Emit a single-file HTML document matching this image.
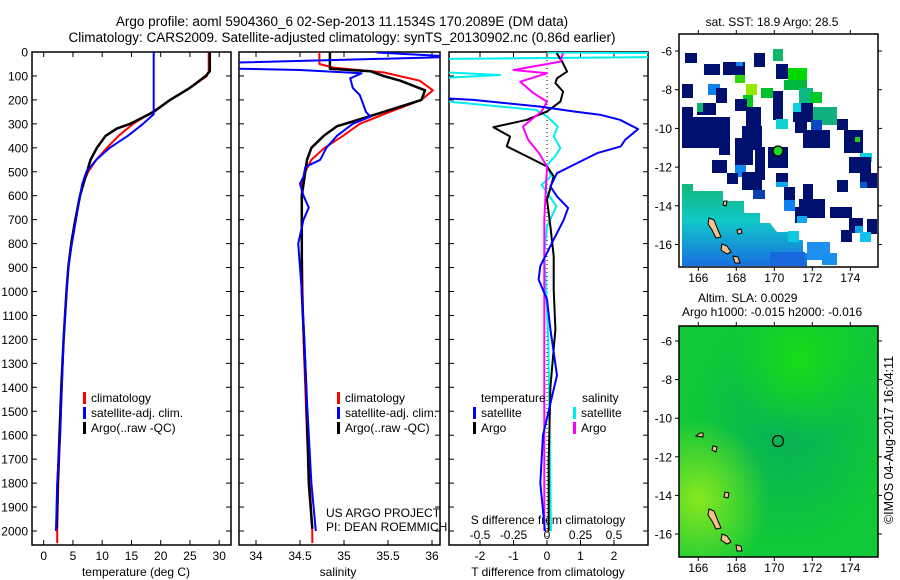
<!DOCTYPE html>
<html><head><meta charset="utf-8"><style>
body{margin:0;background:#fff;}
svg{display:block;font-family:"Liberation Sans",sans-serif;}
text{fill:#000;}
</style></head><body>
<svg id="fig" width="900" height="580" viewBox="0 0 900 580">
<defs>
<clipPath id="c1"><rect x="32" y="52" width="199" height="493"/></clipPath>
<clipPath id="c2"><rect x="239" y="52" width="201" height="493"/></clipPath>
<clipPath id="c3"><rect x="449" y="52" width="199" height="493"/></clipPath>
<linearGradient id="swg" x1="0" y1="0" x2="0" y2="1">
<stop offset="0" stop-color="#10b878"/><stop offset="0.45" stop-color="#10c8c8"/><stop offset="1" stop-color="#1870e0"/></linearGradient>
<radialGradient id="g2a" cx="0.55" cy="0.45" r="0.5"><stop offset="0" stop-color="#08b058"/><stop offset="1" stop-color="#08b058" stop-opacity="0"/></radialGradient>
<radialGradient id="g2b" cx="0.1" cy="0.75" r="0.35"><stop offset="0" stop-color="#88e820"/><stop offset="1" stop-color="#88e820" stop-opacity="0"/></radialGradient>
<radialGradient id="g2c" cx="0.6" cy="0.15" r="0.35"><stop offset="0" stop-color="#18dc18"/><stop offset="1" stop-color="#18dc18" stop-opacity="0"/></radialGradient>
</defs>
<text x="342" y="26" font-size="13.5" text-anchor="middle">Argo profile: aoml 5904360_6 02-Sep-2013 11.1534S 170.2089E (DM data)</text>
<text x="342" y="42" font-size="13.5" text-anchor="middle">Climatology: CARS2009. Satellite-adjusted climatology: synTS_20130902.nc (0.86d earlier)</text>
<g id="p1"></g>
<g id="p2"></g>
<g id="p3"></g>
<g id="maps"></g>
<text transform="translate(893,440) rotate(-90)" font-size="12.5" text-anchor="middle">©IMOS 04-Aug-2017 16:04:11</text>
</svg>
<script>
// ---- data ----
const depthTicks=[0,100,200,300,400,500,600,700,800,900,1000,1100,1200,1300,1400,1500,1600,1700,1800,1900,2000];
const tempTicks=[0,5,10,15,20,25,30];
const salTicks=[34,34.5,35,35.5,36];
const tdiffTicks=[-2,-1,0,1,2];
const sdiffTicks=[-0.5,-0.25,0,0.25,0.5];
const sdiffTickLabels=["-0.5","-0.25","0","0.25","0.5"];

const tClimDepth=[0,80,100,150,200,250,300,350,400,450,500,550,600,700,800,900,1000,1200,1400,1600,1800,2000,2050];
const tClimVal=[28.2,28.2,27.9,25,21.6,18.6,15.3,12.8,10.8,9,7.6,6.7,6.2,5.5,4.8,4.2,3.9,3.4,3.1,2.8,2.5,2.3,2.3];
const tArgoDepth=[0,80,100,150,200,250,300,320,350,400,450,500,550,600,700,800,900,1000,1200,1400,1600,1800,1990];
const tArgoVal=[28.4,28.4,27.7,25,21.6,18.8,14.8,12.5,10.6,9.1,8,7.4,6.8,6.2,5.4,4.7,4.2,3.9,3.4,3,2.7,2.4,2.2];
const tSatDepth=[0,240,260,300,350,400,450,500,550,600,700,800,900,1000,1200,1400,1600,1800,2000];
const tSatVal=[18.8,18.8,18.8,17,14.4,11.3,9,7.3,6.6,6.2,5.5,4.8,4.2,3.9,3.4,3.1,2.8,2.3,2.1];

const sClimDepth=[0,50,65,85,120,160,200,250,300,350,400,450,500,550,600,800,1200,1600,2000,2050];
const sClimVal=[34.72,34.72,34.88,35.45,35.86,36.01,35.88,35.52,35.18,34.99,34.78,34.63,34.56,34.52,34.52,34.52,34.54,34.58,34.64,34.64];
const sArgoDepth=[0,70,80,100,120,160,200,250,290,310,350,400,450,500,600,800,1000,1400,1800,1990];
const sArgoVal=[34.84,34.84,35.3,35.45,35.64,35.92,35.88,35.45,35.1,34.92,34.77,34.63,34.58,34.56,34.52,34.52,34.52,34.57,34.6,34.64];
const sSatDepth=[2,20,45,69,75,89,110,150,180,200,250,270,300,350,400,450,480,520,550,600,650,700,800,1000,1200,1400,1600,1800,2000];
const sSatVal=[35.37,36.3,33.7,33.7,34.5,35.2,35.07,35.1,35.18,35.2,35.25,35.3,35.1,34.92,34.8,34.73,34.56,34.54,34.5,34.54,34.6,34.54,34.48,34.52,34.55,34.57,34.6,34.63,34.68];

const dTSatDepth=[0,189,200,228,248,262,283,322,367,394,422,464,506,561,603,651,700,783,894,950,1033,1158,1350,1600,1800,2000];
const dTSatVal=[-3.5,-3.5,-2.2,-0.2,0.78,1.58,2.18,2.72,2.33,2.2,1.5,0.9,0.3,0.1,0.3,0.63,0.5,0.2,-0.2,-0.25,0,0.1,0.3,-0.12,-0.2,-0.06];
const dTArgoDepth=[5,40,82,110,130,165,207,228,248,283,314,353,394,436,478,519,617,728,853,992,1158,1400,1700,2000];
const dTArgoVal=[0.29,0.45,0.6,0.3,0.25,0.48,0.4,0.2,0,-0.6,-1.6,-1.1,-1.2,-0.6,0,0.2,0,0.1,0.2,0.2,0.25,0.1,0.05,0.05];
const dSSatDepth=[2,5,20,30,78,96,115,193,242,269,311,353,401,436,471,519,554,603,644,728,839,1200,1600,2000];
const dSSatVal=[0,1,1,-1,-1,-0.35,-1,-1,-0.08,0,0.08,0.05,0.1,0.06,0,0.03,-0.04,0.02,0.07,0,-0.02,0.01,0.02,0.03];
const dSArgoDepth=[5,40,75,89,124,172,207,248,311,367,422,478,700,1200,2000];
const dSArgoVal=[0.12,0.1,-0.25,0,-0.2,-0.1,0,-0.04,-0.18,-0.14,-0.06,0,-0.02,-0.02,-0.02];

// ---- scales ----
const yD=d=>52+d*0.2395;
const xT=v=>43.7+v*5.85;
const xS=v=>256+(v-34)*88;
const xTd=v=>547+v*33.5;
const xSd=v=>547+v*134;
const NS='http://www.w3.org/2000/svg';
function mk(tag,attrs,parent){const e=document.createElementNS(NS,tag);for(const k in attrs)e.setAttribute(k,attrs[k]);parent.appendChild(e);return e;}
function txt(parent,x,y,s,size,anchor){const t=mk('text',{x:x,y:y,'font-size':size,'text-anchor':anchor||'start'},parent);t.textContent=s;return t;}
function line(parent,ds,vs,xf,color,w,clip,name){
  const pts=ds.map((d,i)=>xf(vs[i]).toFixed(1)+','+yD(d).toFixed(1)).join(' ');
  const p=mk('polyline',{points:pts,fill:'none',stroke:color,'stroke-width':w,'clip-path':'url(#'+clip+')','stroke-linejoin':'round'},parent);
  
  
  return p;
}
function frame(parent,x,w,name){
  const r=mk('rect',{x:x,y:52,width:w,height:493,fill:'none',stroke:'#000','stroke-width':1.5},parent);
  
  
  depthTicks.forEach(d=>{mk('line',{x1:x,x2:x+5,y1:yD(d),y2:yD(d),stroke:'#000'},parent);mk('line',{x1:x+w-5,x2:x+w,y1:yD(d),y2:yD(d),stroke:'#000'},parent);});
}
const p1=document.getElementById('p1'),p2=document.getElementById('p2'),p3=document.getElementById('p3');
// panel 1
frame(p1,32,199,'temperature-frame');
depthTicks.forEach(d=>{const t=txt(p1,28,yD(d)+4.5,String(d),12,'end');

});
tempTicks.forEach(v=>{mk('line',{x1:xT(v),x2:xT(v),y1:52,y2:57,stroke:'#000'},p1);mk('line',{x1:xT(v),x2:xT(v),y1:540,y2:545,stroke:'#000'},p1);
const t=txt(p1,xT(v),560,String(v),12,'middle');

});
txt(p1,136,576,'temperature (deg C)',12,'middle');
line(p1,tClimDepth,tClimVal,xT,'#f00',2,'c1','temp-climatology-line');
line(p1,tArgoDepth,tArgoVal,xT,'#000',2.5,'c1','temp-argo-line');
line(p1,tSatDepth,tSatVal,xT,'#00f',2,'c1','temp-satellite-line');
// panel 2
frame(p2,239,201,'salinity-frame');
salTicks.forEach(v=>{mk('line',{x1:xS(v),x2:xS(v),y1:52,y2:57,stroke:'#000'},p2);mk('line',{x1:xS(v),x2:xS(v),y1:540,y2:545,stroke:'#000'},p2);
const t=txt(p2,xS(v),560,String(v),12,'middle');

});
txt(p2,338,576,'salinity',12,'middle');
line(p2,sClimDepth,sClimVal,xS,'#f00',2,'c2','sal-climatology-line');
line(p2,sArgoDepth,sArgoVal,xS,'#000',2.5,'c2','sal-argo-line');
line(p2,sSatDepth,sSatVal,xS,'#00f',2,'c2','sal-satellite-line');
// panel 3
frame(p3,449,199,'difference-frame');
mk('line',{x1:547,x2:547,y1:52,y2:545,stroke:'#000','stroke-dasharray':'1,3'},p3);
tdiffTicks.forEach(v=>{mk('line',{x1:xTd(v),x2:xTd(v),y1:540,y2:545,stroke:'#000'},p3);
const t=txt(p3,xTd(v),560,String(v),12,'middle');

});
sdiffTicks.forEach((v,i)=>{mk('line',{x1:xSd(v),x2:xSd(v),y1:52,y2:57,stroke:'#000'},p3);
const t=txt(p3,xSd(v),539,sdiffTickLabels[i],12,'middle');

});
txt(p3,548,524,'S difference from climatology',12,'middle');
txt(p3,548,576,'T difference from climatology',12,'middle');
line(p3,dSSatDepth,dSSatVal,xSd,'#0ee',2,'c3','sdiff-satellite-line');
line(p3,dTArgoDepth,dTArgoVal,xTd,'#000',2,'c3','tdiff-argo-line');
line(p3,dSArgoDepth,dSArgoVal,xSd,'#f0f',2,'c3','sdiff-argo-line');
line(p3,dTSatDepth,dTSatVal,xTd,'#00f',2,'c3','tdiff-satellite-line');
// legends
function leg(parent,x,y,color,label){mk('rect',{x:x,y:y-10,width:3,height:12,fill:color},parent);const t=txt(parent,x+8,y,label,12);

}
[[p1,83],[p2,337]].forEach(([p,x])=>{leg(p,x,402,'#f00','climatology');leg(p,x,417,'#00f','satellite-adj. clim.');leg(p,x,432,'#000','Argo(..raw -QC)');});
txt(p3,481,402,'temperature',12);txt(p3,582,402,'salinity',12);
leg(p3,473,417,'#00f','satellite');leg(p3,473,432,'#000','Argo');
leg(p3,573,417,'#0ee','satellite');leg(p3,573,432,'#f0f','Argo');
txt(p2,326,517,'US ARGO PROJECT',12);txt(p2,326,531,'PI: DEAN ROEMMICH',12);
// ---- maps ----
const maps=document.getElementById('maps');
const mLon=v=>698.3+(v-166)*19;
const lonTicks=[166,168,170,172,174];
const latTicks=[-6,-8,-10,-12,-14,-16];
function mapAxes(top,bottom,latY){
  lonTicks.forEach(v=>{mk('line',{x1:mLon(v),x2:mLon(v),y1:top-4,y2:top,stroke:'#000'},maps);mk('line',{x1:mLon(v),x2:mLon(v),y1:bottom,y2:bottom+4,stroke:'#000'},maps);
  const t=txt(maps,mLon(v),bottom+15,String(v),12,'middle');
  
  });
  latTicks.forEach(v=>{const y=latY(v);mk('line',{x1:675,x2:679,y1:y,y2:y,stroke:'#000'},maps);mk('line',{x1:878,x2:882,y1:y,y2:y,stroke:'#000'},maps);
  const t=txt(maps,672,y+4.5,String(v),12,'end');
  
  });
}
txt(maps,772,26,'sat. SST: 18.9  Argo: 28.5',12,'middle');
// map1 cells
mk('polygon',{points:'682,184 693,184 693,191 723,191 723,201 744,201 744,213 760,213 760,223 770,223 777,232 790,232 790,240 803,240 803,253 807,253 807,266 682,266',fill:'url(#swg)'},maps);
const N='#00106e';
const cells=[[685,53,12,10,N],[754,53,11,14,N],[773,49,10,12,'#10b868'],[704,64,16,11,N],[723,62,22,13,N],[736,62,7,4,'#1080f0'],[735,75,10,8,'#30d800'],[776,64,12,15,N],[788,68,19,12,'#00d800'],[784,80,23,10,'#00b840'],[746,84,11,11,'#98e800'],[761,88,12,10,'#00c030'],[743,95,10,12,'#00c820'],[682,84,11,14,N],[708,84,12,11,'#1080f0'],[716,88,11,15,N],[799,88,14,15,'#10b888'],[810,92,12,11,'#00c828'],[773,91,10,29,N],[735,99,12,12,N],[697,103,19,12,N],[697,103,6,9,'#10b070'],[682,107,11,13,N],[746,107,15,20,N],[793,103,20,19,N],[793,103,8,9,'#10d0e0'],[813,107,24,18,'#10b080'],[682,117,48,31,N],[776,119,12,10,'#10d0d0'],[795,120,12,13,N],[811,120,11,10,'#0848c0'],[837,119,11,11,N],[803,130,27,18,N],[844,130,19,23,N],[855,137,5,5,'#20d020'],[742,126,20,24,N],[735,138,18,27,N],[719,138,11,17,N],[755,147,10,33,N],[768,147,20,21,N],[712,160,15,13,N],[860,153,12,9,'#10d0e0'],[849,157,22,16,N],[735,165,11,12,'#1088f0'],[727,173,11,11,N],[742,172,20,18,N],[753,190,12,9,'#0840b0'],[776,173,12,14,N],[776,182,12,5,'#10a8f0'],[837,180,11,12,N],[860,173,17,15,N],[860,182,7,6,'#0858d0'],[784,187,11,13,N],[803,184,10,23,N],[799,199,26,19,N],[784,200,11,11,'#1080f0'],[795,207,12,16,N],[797,216,10,7,'#10a8f0'],[830,207,22,11,N],[849,218,14,15,N],[855,226,8,7,'#10a0f0'],[867,219,10,15,N],[841,230,11,12,N],[860,232,11,10,'#10c0f0'],[788,231,11,11,'#10c8e0'],[807,242,23,18,'#2090f0'],[822,253,15,12,'#1890f0'],[770,252,35,14,'#1868e0']];
cells.forEach(c=>{const r=mk('rect',{x:c[0],y:c[1],width:c[2],height:c[3],fill:c[4]},maps);

});
// islands map1
[['709,218 714,220 718,230 721,237 716,238 712,230 708,224'],['722,244 727,246 731,252 727,254 721,250'],['733,256 738,257 740,263 735,263'],['724,201 727,201 726,206 723,205'],['737,230 741,229 742,233 738,234']].forEach(p=>{mk('polygon',{points:p[0],fill:'#f6c08c',stroke:'#000','stroke-width':1},maps);});
mk('circle',{cx:778,cy:151,r:5,fill:'#20d820',stroke:'#000','stroke-width':1.2},maps);
mk('rect',{x:679,y:34,width:199,height:233,fill:'none',stroke:'#000','stroke-width':1.5},maps);
mapAxes(34,267,v=>51+(-6-v)*19.35);
txt(maps,698,302,'Altim. SLA: 0.0029',12);
txt(maps,682,316,'Argo h1000: -0.015 h2000: -0.016',12);
// map2
mk('rect',{x:679,y:326,width:199,height:231,fill:'#10c838'},maps);
mk('rect',{x:679,y:326,width:199,height:231,fill:'url(#g2a)'},maps);
mk('rect',{x:679,y:326,width:199,height:231,fill:'url(#g2b)'},maps);
mk('rect',{x:679,y:326,width:199,height:231,fill:'url(#g2c)'},maps);
[['709,509 714,511 718,521 721,528 716,529 712,521 708,515'],['722,534 727,536 731,542 727,544 721,540'],['736,545 741,546 742,551 737,551'],['703,433 700,433 696,436 703,437'],['713,446 717,447 716,452 712,450'],['725,492 729,493 728,498 724,497']].forEach(p=>{mk('polygon',{points:p[0],fill:'#f6c08c',stroke:'#000','stroke-width':1},maps);});
mk('circle',{cx:778,cy:441,r:5.5,fill:'none',stroke:'#000','stroke-width':1.2},maps);
mk('rect',{x:679,y:326,width:199,height:231,fill:'none',stroke:'#000','stroke-width':1.5},maps);
mapAxes(326,557,v=>341+(-6-v)*19.3);
</script>
</body></html>
